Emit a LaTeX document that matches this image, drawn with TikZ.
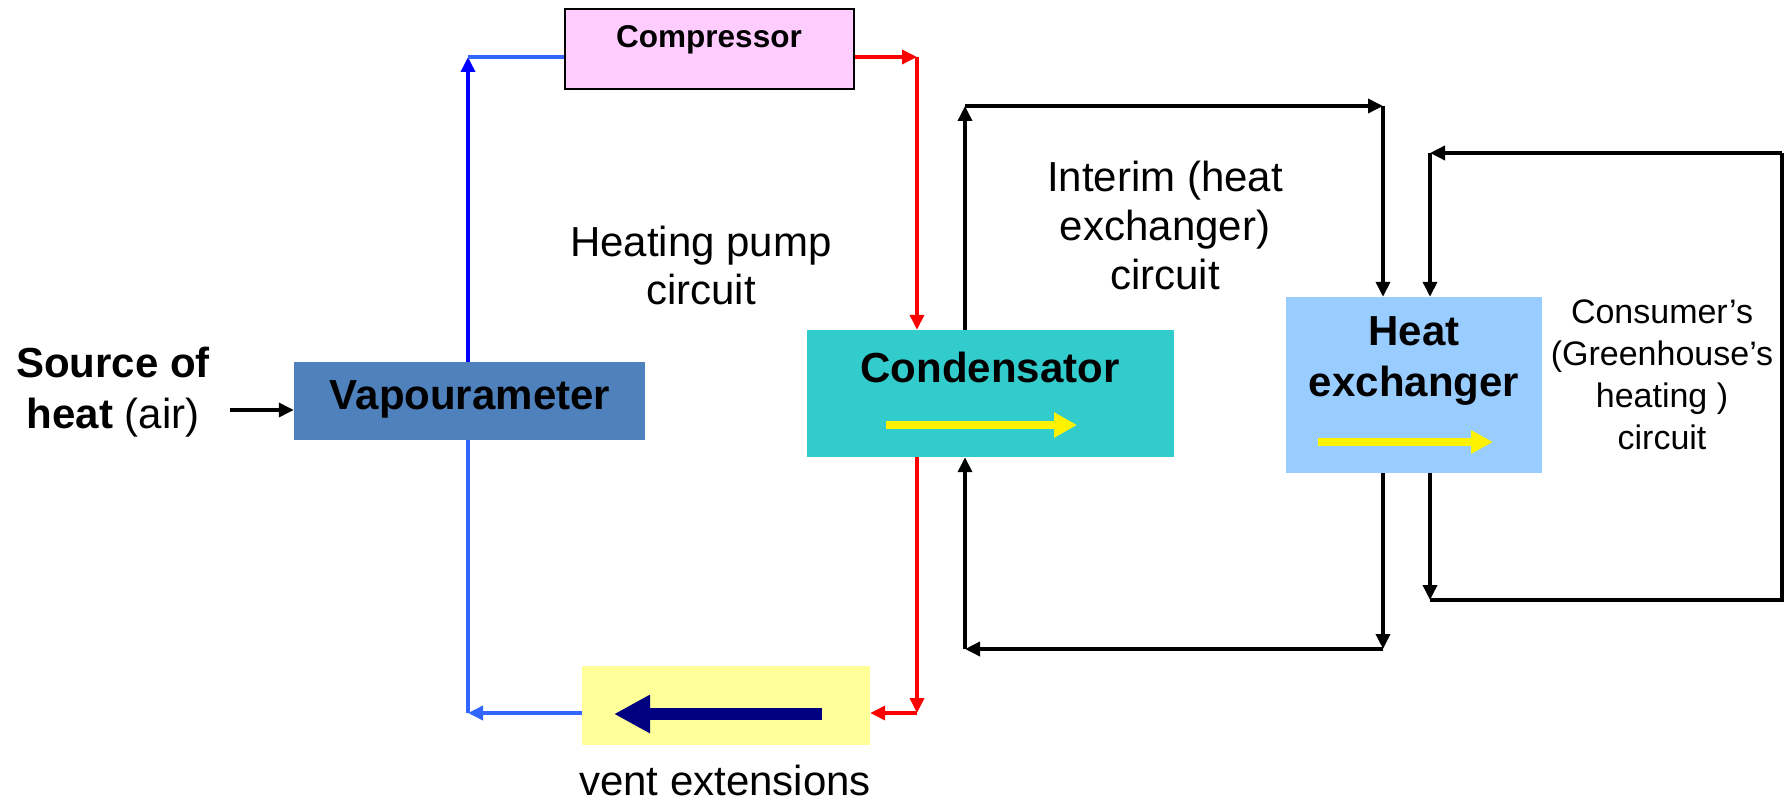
\documentclass[tikz,border=0pt]{standalone}
\usepackage{xcolor}
\usepackage{fontspec}
\setmainfont{Liberation Sans}
\usepackage{tikz}
\usetikzlibrary{positioning,arrows.meta,calc}
\definecolor{compfill}{HTML}{FFCCFF}
\definecolor{vapfill}{HTML}{4F81BD}
\definecolor{condfill}{HTML}{33CCCC}
\definecolor{hxfill}{HTML}{99CCFF}
\definecolor{ventfill}{HTML}{FFFF99}
\definecolor{lowblue}{HTML}{3366FF}
\tikzset{
  lbl/.style={align=center,font=\fontsize{42}{48}\selectfont},
  blbl/.style={lbl,font=\fontsize{42}{51}\selectfont\bfseries},
  pipe/.style={line width=3.5pt},
  tip/.style={-{Triangle[length=15pt,width=14pt]}},
  hotline/.style={pipe,red},
  coldline/.style={pipe,lowblue},
  wline/.style={pipe,black},
  yarrow/.style={line width=8pt,yellow,-{Triangle[length=23pt,width=24pt]}},
  narrow/.style={line width=12pt,blue!50!black,-{Triangle[length=36pt,width=36pt]}},
}

\begin{document}
\begin{tikzpicture}[x=1pt,y=-1pt,
                    box/.style={inner sep=0pt,minimum width=#1}]
  \useasboundingbox (0,0) rectangle (1784,802);
  \node[box=289pt,minimum height=80pt,fill=compfill,draw=black,line width=2pt] (comp) at (709.5,49) {};
  \node[box=351pt,minimum height=78pt,fill=vapfill]  (vap)  at (469.5,401) {};
  \node[box=367pt,minimum height=127pt,fill=condfill] (cond) at (990,393.5) {};
  \node[box=256pt,minimum height=176pt,fill=hxfill]   (hx)   at (1414,385) {};
  \node[box=288pt,minimum height=79pt,fill=ventfill]  (vent) at (726,705.5) {};
  \node[blbl,font=\fontsize{31.5}{36}\selectfont\bfseries] (complbl) at (709,40) {Compressor};
  \node[blbl] (vaplbl)  at (470,399)  {Vapourameter};
  \node[blbl] (condlbl) at (990,367)  {Condensator};
  \node[blbl] (hxlbl)   at (1414,361) {Heat\\exchanger};
  \node[lbl]  (ventlbl) at (725,780)  {vent extensions};
  \node[lbl]  (pumplbl) at (701,265)  {Heating pump\\circuit};
  \node[lbl,font=\fontsize{42}{49}\selectfont] (interlbl) at (1165,225) {Interim (heat\\exchanger)\\circuit};
  \node[lbl,font=\fontsize{34}{42}\selectfont] (conslbl) at (1662,375) {Consumer’s\\(Greenhouse’s\\heating )\\circuit};
  \node[blbl] (srclbl) at (113,392) {Source of\\heat \mdseries(air)};
  \coordinate (srcend) at (vap.west |- 0,410);
  \coordinate (bTL) at (468,57);
  \coordinate (bBL) at (468,713);
  \coordinate (rTR) at (917,57);
  \coordinate (rBR) at (917,713);
  \coordinate (kTL) at (965,106);
  \coordinate (kTR) at (1383,106);
  \coordinate (kBL) at (965,649);
  \coordinate (kBR) at (1383,649);
  \coordinate (gTL) at (1430,153);
  \coordinate (gTR) at (1782,153);
  \coordinate (gBL) at (1430,600);
  \coordinate (gBR) at (1782,600);
  \draw[wline,tip] (230,410) -- (srcend);
  \draw[pipe,blue,tip] (vap.north -| bTL) -- (bTL);
  \draw[coldline] (bTL) -- (comp.west |- bTL);
  \draw[hotline,tip] (comp.east |- rTR) -- (rTR);
  \draw[hotline,tip] (rTR) -- (cond.north -| rTR);
  \draw[hotline,tip] (cond.south -| rBR) -- (rBR);
  \draw[hotline,tip] (rBR) -- (vent.east |- rBR);
  \draw[coldline,tip] (vent.west |- bBL) -- (bBL);
  \draw[coldline] (bBL) -- (vap.south -| bBL);
  \draw[wline,tip] (cond.north -| kTL) -- (kTL);
  \draw[wline,tip] (kTL) -- (kTR);
  \draw[wline,tip] (kTR) -- (hx.north -| kTR);
  \draw[wline,tip] (hx.south -| kBR) -- (kBR);
  \draw[wline,tip] (kBR) -- (kBL);
  \draw[wline,tip] (kBL) -- (cond.south -| kBL);
  \draw[wline,tip] (gTR) -- (gTL);
  \draw[wline,tip] (gTL) -- (hx.north -| gTL);
  \draw[wline,tip] (hx.south -| gBL) -- (gBL);
  \draw[wline,line join=miter] (gBL) -- (gBR) -- (gTR);
  \draw[yarrow] (886,425) -- (1077,425);
  \draw[yarrow,-{Triangle[length=22pt,width=22pt]}] (1318,442) -- (1493,442);
  \draw[narrow] (822,714) -- (614,714);
\end{tikzpicture}
\end{document}
